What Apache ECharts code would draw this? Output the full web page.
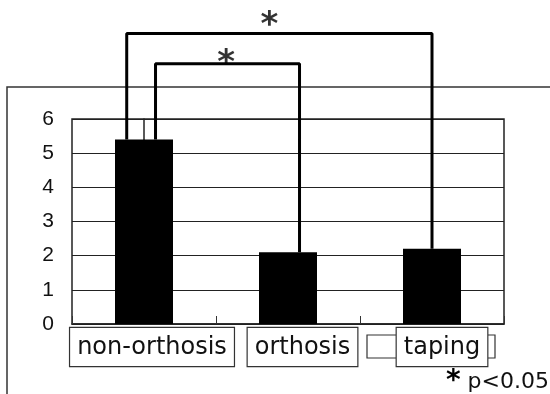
<!DOCTYPE html>
<html><head><meta charset="utf-8">
<script src="https://cdn.jsdelivr.net/npm/echarts@6/dist/echarts.min.js"></script>
<style>html,body{margin:0;padding:0;background:#fff}#c{width:550px;height:394px}</style>
</head><body><div id="c"></div>
<script>
const categories = ['non-orthosis', 'orthosis', 'taping'];
const values = [5.4, 2.1, 2.2];
const yMin = 0, yMax = 6, yStep = 1;
// significance brackets: [x (category units), y (value units)]
const bracketOuter = [[-0.12, 5.4], [-0.12, 8.5], [2.0, 8.5], [2.0, 2.2]];
const bracketInner = [[0.08, 5.4], [0.08, 7.62], [1.08, 7.62], [1.08, 2.1]];
const stars = [[0.87, 8.71], [0.57, 7.6]];
const noteStar = '*';
const noteText = 'p<0.05';

const labelShift = { 'non-orthosis': 's1', 'orthosis': 's2', 'taping': 's3' };
const boxStyle = {
  fontFamily: 'DejaVu Sans', fontSize: 24, color: '#111',
  borderColor: '#333', borderWidth: 1.2, padding: [8, 7, 6, 7], backgroundColor: '#fff'
};

const chart = echarts.init(document.getElementById('c'), null, { renderer: 'canvas' });
chart.setOption({
  backgroundColor: '#fff',
  animation: false,
  grid: { left: 72, right: 46, top: 119, bottom: 70, show: true, borderColor: '#222', borderWidth: 1.5 },
  xAxis: [{
    type: 'category', data: categories,
    axisLine: { lineStyle: { color: '#222', width: 1.5 } },
    axisTick: { show: true, inside: true, length: 8, lineStyle: { color: '#333', width: 1 } },
    axisLabel: {
      interval: 0, hideOverlap: false,
      margin: 4,
      formatter: v => '{' + labelShift[v] + '|}{b|' + v + '}',
      rich: {
        s1: { width: 16 }, s2: { width: 29 }, s3: { width: 20 },
        b: boxStyle
      }
    }
  }, {
    type: 'value', min: -0.5, max: 2.5, show: false
  }],
  yAxis: {
    type: 'value', min: yMin, max: yMax, interval: yStep,
    axisLine: { show: true, lineStyle: { color: '#222', width: 1.5 } },
    axisTick: { show: false },
    splitLine: { show: true, lineStyle: { color: '#222', width: 1.2 } },
    axisLabel: { margin: 18, fontFamily: '"Liberation Sans Narrow", "Liberation Sans", sans-serif', fontSize: 21, color: '#111' }
  },
  series: [
    { type: 'bar', data: values, barWidth: 58, itemStyle: { color: '#000' }, z: 3 },
    { type: 'line', xAxisIndex: 1, data: bracketOuter, clip: false, symbol: 'none',
      lineStyle: { color: '#000', width: 3 }, z: 2 },
    { type: 'line', xAxisIndex: 1, data: bracketInner, clip: false, symbol: 'none',
      lineStyle: { color: '#000', width: 3 }, z: 2 },
    { type: 'scatter', xAxisIndex: 1, data: stars, clip: false, symbolSize: 0,
      label: { show: true, position: 'inside', formatter: '*', fontFamily: 'DejaVu Sans',
        fontSize: 34, fontWeight: 'bold', color: '#000' }, z: 5 }
  ],
  graphic: [
    { type: 'polyline', shape: { points: [[550, 87], [7, 87], [7, 394]] }, style: { stroke: '#333', lineWidth: 1.5, fill: null }, z: -5 },
    { type: 'rect', shape: { x: 367, y: 335, width: 128, height: 23 }, style: { stroke: '#333', lineWidth: 1.2, fill: '#fff' }, z: -5 },
    { type: 'text', right: 1, bottom: -2, style: {
        text: '{a|' + noteStar + '}{g|}{b|' + noteText + '}',
        rich: {
          a: { fontFamily: 'DejaVu Sans', fontSize: 28, fontWeight: 'bold', fill: '#000', verticalAlign: 'bottom' },
          g: { width: 7 },
          b: { fontFamily: 'DejaVu Sans', fontSize: 22, fill: '#111' }
        } } }
  ]
});
</script></body></html>
